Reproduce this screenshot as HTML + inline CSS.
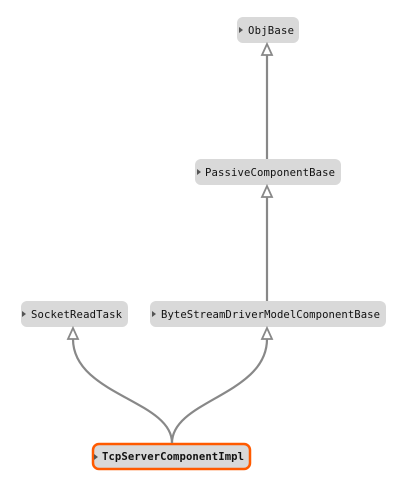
<!DOCTYPE html>
<html><head><style>body{margin:0;background:#fff}svg{display:block}</style></head>
<body>
<svg width="406" height="484" xmlns="http://www.w3.org/2000/svg" font-family="'DejaVu Sans Mono', 'Liberation Mono', monospace" font-size="10.6">
<g fill="#d9d9d9">
<rect x="237" y="17" width="62" height="26" rx="6"/>
<rect x="195" y="159" width="146" height="26" rx="6"/>
<rect x="21" y="301" width="107" height="26" rx="6"/>
<rect x="150" y="301" width="236" height="26" rx="6"/>
<rect x="93" y="444" width="157" height="25" rx="6" stroke="#ff5a00" stroke-width="2.5"/>
</g>
<g fill="#555">
<path d="M239 27l4 3-4 3z"/><path d="M197 169l4 3-4 3z"/><path d="M22 311l4 3-4 3z"/><path d="M152 311l4 3-4 3z"/><path d="M94 454l4 3-4 3z"/>
</g>
<g fill="#111">
<text x="248" y="34" textLength="46">ObjBase</text>
<text x="205" y="176" textLength="130">PassiveComponentBase</text>
<text x="31" y="318" textLength="91">SocketReadTask</text>
<text x="161" y="318" textLength="219">ByteStreamDriverModelComponentBase</text>
<text x="102" y="460" textLength="142" font-weight="bold">TcpServerComponentImpl</text>
</g>
<g stroke="#888" stroke-width="2.2" fill="none">
<path d="M267 55V159"/><path d="M267 197V301"/>
<path d="M172 443C172 400 73 395 73 339"/>
<path d="M172 443C172 400 267 395 267 339"/>
</g>
<g stroke="#888" stroke-width="1.8" fill="#fff">
<path d="M267 44l-5 11h10z"/><path d="M267 186l-5 11h10z"/>
<path d="M73 328l-5 11h10z"/><path d="M267 328l-5 11h10z"/>
</g>
</svg>
</body></html>
